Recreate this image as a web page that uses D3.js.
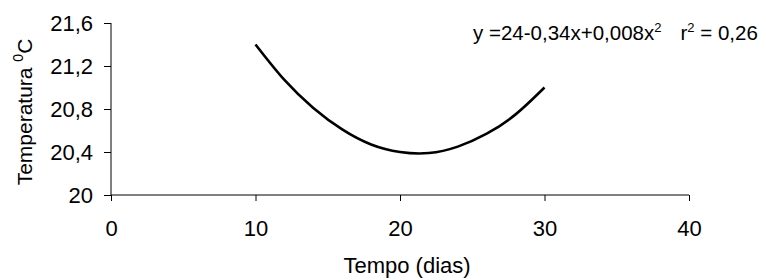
<!DOCTYPE html>
<html>
<head>
<meta charset="utf-8">
<script src="https://cdn.jsdelivr.net/npm/d3@7"></script>
<style>
  body { margin: 0; background: #fff; }
  text { font-family: "Liberation Sans", Arial, sans-serif; fill: #000; }
</style>
</head>
<body>
<svg id="chart" width="766" height="280"></svg>
<script>
// values
const days = [10, 12, 14, 16, 18, 20, 22, 24, 26, 28, 30];
const temps = [21.4, 21.07, 20.81, 20.61, 20.47, 20.4, 20.39, 20.45, 20.57, 20.75, 21.0];
const xTicks = [0, 10, 20, 30, 40];
const yTicks = [20, 20.4, 20.8, 21.2, 21.6];

const svg = d3.select('#chart');
const x = d3.scaleLinear().domain([0, 40]).range([111, 689]);
const y = d3.scaleLinear().domain([20, 21.6]).range([195, 23]);

const fmt = d => String(d).replace('.', ',');

// y axis
const gy = svg.append('g').attr('class', 'yaxis').attr('transform', 'translate(111,0)')
  .call(d3.axisLeft(y).tickValues(yTicks).tickSize(7).tickPadding(11).tickFormat(fmt));
gy.selectAll('text').style('font-size', '22px');
gy.select('.domain').attr('d', 'M0,23V195');

// x axis
const gx = svg.append('g').attr('class', 'xaxis').attr('transform', 'translate(0,195)')
  .call(d3.axisBottom(x).tickValues(xTicks).tickSize(6).tickPadding(19).tickFormat(fmt));
gx.selectAll('text').style('font-size', '22px');
gx.select('.domain').attr('d', 'M111,0H689');

svg.selectAll('.domain, .tick line').attr('stroke', '#000');

// curve
const line = d3.line().x((d, i) => x(days[i])).y(d => y(d)).curve(d3.curveNatural);
svg.append('path').datum(temps)
  .attr('d', line)
  .attr('fill', 'none')
  .attr('stroke', '#000')
  .attr('stroke-width', 2.6);

// axis titles
svg.append('text').attr('x', 407).attr('y', 273)
  .attr('text-anchor', 'middle').style('font-size', '22px').text('Tempo (dias)');

const yl = svg.append('text').attr('transform', 'translate(32,112) rotate(-90)')
  .attr('text-anchor', 'middle').style('font-size', '21px');
yl.append('tspan').text('Temperatura ');
yl.append('tspan').attr('dy', -9).style('font-size', '14px').text('0');
yl.append('tspan').attr('dy', 9).text('C');

// equation
const eq = svg.append('text').attr('x', 473).attr('y', 40).style('font-size', '20.5px');
eq.append('tspan').text('y =24-0,34x+0,008x');
eq.append('tspan').attr('dy', -8).style('font-size', '13px').text('2');
eq.append('tspan').attr('dy', 8).attr('dx', 19).text('r');
eq.append('tspan').attr('dy', -8).style('font-size', '13px').text('2');
eq.append('tspan').attr('dy', 8).text(' = 0,26');
</script>
</body>
</html>
